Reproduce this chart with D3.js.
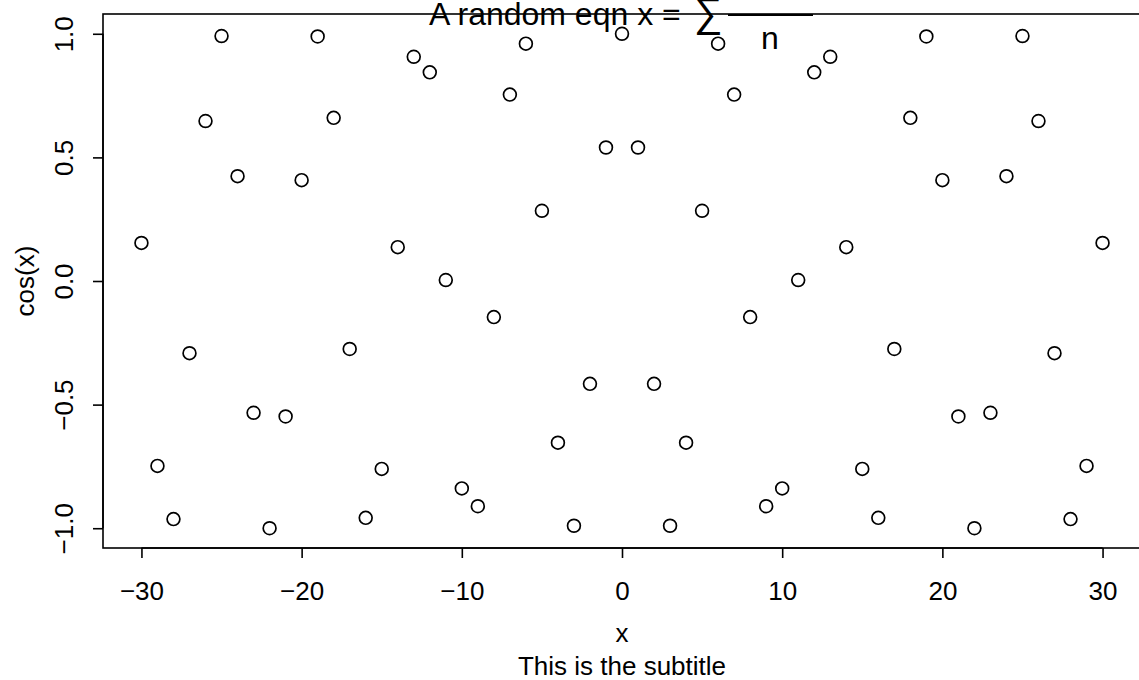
<!DOCTYPE html>
<html><head><meta charset="utf-8">
<script src="https://cdn.jsdelivr.net/npm/d3@7"></script>
<style>body{margin:0;background:#fff}svg{display:block}text{font-family:"Liberation Sans",Arial,sans-serif;fill:#000}</style>
</head><body><svg id="c" width="1139" height="680"></svg>
<script>
const xValues = [-30,-29,-28,-27,-26,-25,-24,-23,-22,-21,-20,-19,-18,-17,-16,-15,-14,-13,-12,-11,-10,-9,-8,-7,-6,-5,-4,-3,-2,-1,0,1,2,3,4,5,6,7,8,9,10,11,12,13,14,15,16,17,18,19,20,21,22,23,24,25,26,27,28,29,30];
const cosValues = [0.154,-0.748,-0.963,-0.292,0.647,0.991,0.424,-0.533,-1.000,-0.548,0.408,0.989,0.660,-0.275,-0.958,-0.760,0.137,0.907,0.844,0.004,-0.839,-0.911,-0.146,0.754,0.960,0.284,-0.654,-0.990,-0.416,0.540,1.000,0.540,-0.416,-0.990,-0.654,0.284,0.960,0.754,-0.146,-0.911,-0.839,0.004,0.844,0.907,0.137,-0.760,-0.958,-0.275,0.660,0.989,0.408,-0.548,-1.000,-0.533,0.424,0.991,0.647,-0.292,-0.963,-0.748,0.154];
const xTicks = [-30,-20,-10,0,10,20,30];
const yTicks = [-1.0,-0.5,0.0,0.5,1.0];
const titleText = "A random eqn x = ";
const xLabel = "x", yLabel = "cos(x)", subTitle = "This is the subtitle";

const svg = d3.select("#c");
const L = 103, R = 1141, T = 14, B = 548;
const x = d3.scaleLinear().domain([-32.4, 32.4]).range([L, R]);
const y = d3.scaleLinear().domain([-1.08, 1.08]).range([B, T]);
const fs = 26;

// points
svg.append("g").selectAll("circle").data(xValues).join("circle")
  .attr("cx", d => x(d)).attr("cy", (d,i) => y(cosValues[i])).attr("r", 6.4)
  .attr("fill", "none").attr("stroke", "#000").attr("stroke-width", 1.7);

// box
svg.append("rect").attr("x", L).attr("y", T).attr("width", R - L).attr("height", B - T)
  .attr("fill", "none").attr("stroke", "#000").attr("stroke-width", 1.6);

// x axis
const xa = svg.append("g").attr("transform", `translate(0,${B})`)
  .call(d3.axisBottom(x).tickValues(xTicks).tickSize(10).tickPadding(0).tickFormat(d => d3.format("d")(d).replace("-", "\u2212")));
xa.select(".domain").attr("d", `M${x(-30)},0H${x(30)}`).attr("stroke-width", 1.6);
xa.selectAll(".tick line").attr("stroke-width", 1.6);
xa.selectAll(".tick text").attr("font-size", fs).attr("font-family", "Liberation Sans").attr("y", 52).attr("dy", null);

// y axis
const ya = svg.append("g").attr("transform", `translate(${L},0)`)
  .call(d3.axisLeft(y).tickValues(yTicks).tickSize(10).tickFormat(d => d3.format(".1f")(d).replace("-", "\u2212")));
ya.select(".domain").attr("d", `M0,${y(-1)}V${y(1)}`).attr("stroke-width", 1.6);
ya.selectAll(".tick line").attr("stroke-width", 1.6);
ya.selectAll(".tick text").attr("font-size", fs).attr("font-family", "Liberation Sans")
  .attr("x", null).attr("dy", null).attr("text-anchor", "middle")
  .attr("transform", "translate(-30,0) rotate(-90)");

// axis titles
const cx = (L + R) / 2;
svg.append("text").attr("x", cx).attr("y", 642).attr("text-anchor", "middle").attr("font-size", fs).text(xLabel);
svg.append("text").attr("x", cx).attr("y", 675).attr("text-anchor", "middle").attr("font-size", fs).text(subTitle);
svg.append("text").attr("transform", `translate(34,${(T + B) / 2}) rotate(-90)`).attr("text-anchor", "middle").attr("font-size", fs).text(yLabel);

// title (plotmath-like)
svg.append("text").attr("x", 429).attr("y", 25).attr("font-size", 32).text(titleText);
svg.append("text").attr("x", 693).attr("y", 26).attr("font-size", 40).attr("font-family", "DejaVu Serif").attr("font-style", "italic").text("\u2211");
svg.append("line").attr("x1", 728).attr("x2", 813).attr("y1", 15).attr("y2", 15).attr("stroke", "#000").attr("stroke-width", 1.8);
svg.append("text").attr("x", 770).attr("y", 49).attr("text-anchor", "middle").attr("font-size", 32).text("n");
</script></body></html>
